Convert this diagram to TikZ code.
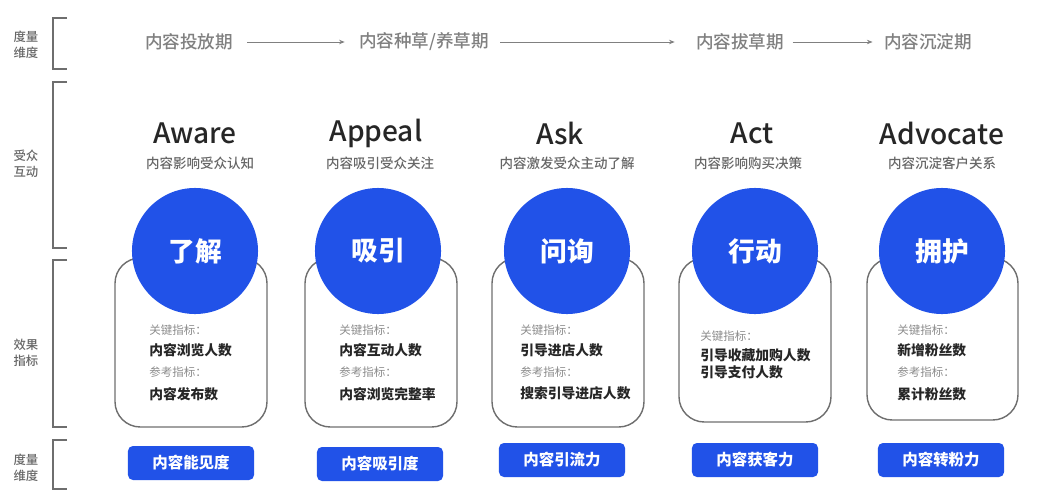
\documentclass[tikz,border=0pt]{standalone}
\usepackage{fontspec}
\setmainfont{Noto Sans CJK SC}
\newfontfamily\medfont{Noto Sans CJK SC}[UprightFont={* Medium}]
\usetikzlibrary{positioning,arrows.meta}
\definecolor{fillblue}{HTML}{2152E8}
\definecolor{graytext}{HTML}{808080}
\definecolor{labelgray}{HTML}{666666}
\definecolor{linegray}{HTML}{6E6E6E}

\begin{document}
\begin{tikzpicture}[x=0.025cm,y=-0.025cm,
   phase/.style={inner sep=0pt,text=graytext,font=\medfont\fontsize{12.5pt}{14pt}\selectfont},
   dim/.style={align=center,text=labelgray,font=\medfont\fontsize{8.8pt}{11.3pt}\selectfont},
   bracket/.style={linegray,line width=0.9pt},
   title/.style={text=black!85,font=\medfont\fontsize{20pt}{22pt}\selectfont},
   sub/.style={text=black!60,font=\medfont\fontsize{9.6pt}{11pt}\selectfont},
   card/.style={linegray,line width=1pt,rounded corners=18pt},
   ball/.style={circle,fill=fillblue,minimum size=3.15cm,text=white,font=\bfseries\fontsize{19pt}{21pt}\selectfont},
   key/.style={anchor=west,inner sep=0pt,text=black!45,font=\fontsize{8.2pt}{10pt}\selectfont},
   val/.style={anchor=west,inner sep=0pt,text=black!85,font=\bfseries\fontsize{9.8pt}{11pt}\selectfont},
   tag/.style={fill=fillblue,rounded corners=3.5pt,minimum width=3.15cm,minimum height=0.85cm,text=white,font=\bfseries\fontsize{11pt}{12pt}\selectfont},
   flow/.style={graytext,line width=0.6pt,-{Stealth[length=4pt,width=3.2pt]}}
]
   \useasboundingbox (0,0) rectangle (1040,500);

   % left side brackets
   \draw[bracket] (67,18) -- (53,18) -- (53,69) -- (67,69);
   \draw[bracket] (67,82) -- (53,82) -- (53,248) -- (67,248);
   \draw[bracket] (67,260) -- (53,260) -- (53,427) -- (67,427);
   \draw[bracket] (67,440) -- (53,440) -- (53,489) -- (67,489);
   \node[dim] (d1) at (26,45) {度量\\维度};
   \node[dim] (d2) at (26,164) {受众\\互动};
   \node[dim] (d3) at (26,353) {效果\\指标};
   \node[dim] (d4) at (26,468) {度量\\维度};

   % phases
   \node[phase] (p1) at (189,42) {内容投放期};
   \node[phase] (p2) at (424,42) {内容种草/养草期};
   \node[phase] (p3) at (740,42) {内容拔草期};
   \node[phase] (p4) at (928,42) {内容沉淀期};
   \draw[flow,shorten <=10pt,shorten >=10pt] (p1) -- (p2);
   \draw[flow,shorten <=8pt,shorten >=15pt] (p2) -- (p3);
   \draw[flow,shorten <=6pt,shorten >=8pt] (p3) -- (p4);

   % titles
   \node[title] (t1) at (195,133) {Aware};
   \node[title] (t2) at (376,133) {Appeal};
   \node[title] (t3) at (560,133) {Ask};
   \node[title] (t4) at (752,133) {Act};
   \node[title] (t5) at (942,133) {Advocate};
   \node[sub] (s1) at (200,163) {内容影响受众认知};
   \node[sub] (s2) at (380,163) {内容吸引受众关注};
   \node[sub] (s3) at (567,163) {内容激发受众主动了解};
   \node[sub] (s4) at (748,163) {内容影响购买决策};
   \node[sub] (s5) at (942,163) {内容沉淀客户关系};

   % cards
   \draw[card] (115,258) rectangle (267,427);
   \draw[card] (305,258) rectangle (457,427);
   \draw[card] (492,258) rectangle (644,427);
   \draw[card] (679,258) rectangle (831,422);
   \draw[card] (867,258) rectangle (1018,420);

   \node[ball] (c1) at (195,251) {了解};
   \node[ball] (c2) at (378,251) {吸引};
   \node[ball] (c3) at (567,251) {问询};
   \node[ball] (c4) at (755,251) {行动};
   \node[ball] (c5) at (942,251) {拥护};

   % metrics
   \node[key] (k1) at (149,330) {关键指标：};
   \node[val] (kv1) at (149,350) {内容浏览人数};
   \node[key] (r1) at (149,372) {参考指标：};
   \node[val] (rv1) at (149,394) {内容发布数};

   \node[key] (k2) at (339,330) {关键指标：};
   \node[val] (kv2) at (339,350) {内容互动人数};
   \node[key] (r2) at (339,372) {参考指标：};
   \node[val] (rv2) at (339,394) {内容浏览完整率};

   \node[key] (k3) at (520,330) {关键指标：};
   \node[val] (kv3) at (520,350) {引导进店人数};
   \node[key] (r3) at (520,372) {参考指标：};
   \node[val] (rv3) at (520,393) {搜索引导进店人数};

   \node[key] (k4) at (700,336) {关键指标：};
   \node[val] (kv4) at (700,355) {引导收藏加购人数};
   \node[val] (kw4) at (700,372) {引导支付人数};

   \node[key] (k5) at (897,330) {关键指标：};
   \node[val] (kv5) at (897,350) {新增粉丝数};
   \node[key] (r5) at (897,372) {参考指标：};
   \node[val] (rv5) at (897,394) {累计粉丝数};

   % bottom tags
   \node[tag] (g1) at (191,463) {内容能见度};
   \node[tag] (g2) at (380,464) {内容吸引度};
   \node[tag] (g3) at (562,460) {内容引流力};
   \node[tag] (g4) at (755,460) {内容获客力};
   \node[tag] (g5) at (941,460) {内容转粉力};
\end{tikzpicture}
\end{document}
